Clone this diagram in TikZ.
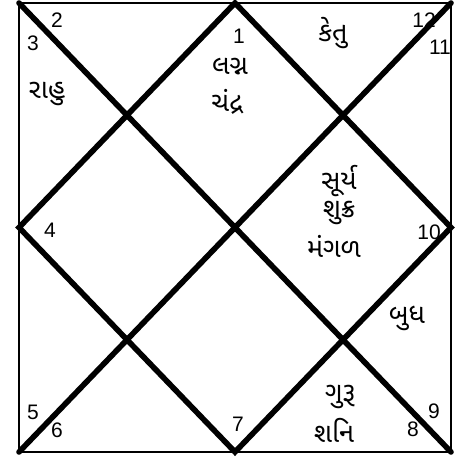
\documentclass[tikz,border=0pt]{standalone}
\usepackage{fontspec}
\setmainfont{Liberation Sans}
\newfontfamily\gujfont[Script=Gujarati]{Noto Sans Gujarati UI}

\begin{document}
\begin{tikzpicture}[x=1pt,y=-1pt,frame/.style={line width=2.8pt,line cap=round},house/.style={line width=5.6pt,line cap=round},num/.style={font=\fontsize{21}{21}\selectfont,inner sep=0pt},graha/.style={font=\gujfont\fontsize{27}{30}\selectfont,inner sep=0pt}]
 \useasboundingbox (0,0) rectangle (460,457);
 % corners and midpoints of the chart
 \coordinate (tl) at (19,3);
 \coordinate (tr) at (451,3);
 \coordinate (br) at (451,452);
 \coordinate (bl) at (19,452);
 \coordinate (tm) at (235,3);
 \coordinate (rm) at (451,227.5);
 \coordinate (bm) at (235,452);
 \coordinate (lm) at (19,227.5);
 \draw[frame] (tl)--(tr)--(br)--(bl)--cycle;
 \draw[house] (tl)--(br) (tr)--(bl);
 \draw[house] (tm)--(rm)--(bm)--(lm)--cycle;
 % house numbers
 \node[num] (n1) at (239,36) {1};
 \node[num] (n2) at (57,20) {2};
 \node[num] (n3) at (33,43) {3};
 \node[num] (n4) at (50,230) {4};
 \node[num] (n5) at (33,412) {5};
 \node[num] (n6) at (57,430) {6};
 \node[num] (n7) at (238,424) {7};
 \node[num] (n8) at (413,429) {8};
 \node[num] (n9) at (434,411) {9};
 \node[num] (n10) at (429,232) {10};
 \node[num] (n11) at (440,47) {11};
 \node[num] (n12) at (424,20) {12};
 % planets
 \node[graha] (lagna) at (230,67) {લગ્ન};
 \node[graha] (chandra) at (227,102) {ચંદ્ર};
 \node[graha] (ketu) at (333,33) {કેતુ};
 \node[graha] (rahu) at (47,94) {રાહુ};
 \node[graha] (surya) at (339,181) {સૂર્ય};
 \node[graha] (shukra) at (339,213) {શુક્ર};
 \node[graha] (mangal) at (334,246) {મંગળ};
 \node[graha] (budh) at (407,318) {બુધ};
 \node[graha] (guru) at (340,397) {ગુરૂ};
 \node[graha] (shani) at (334,430) {શનિ};
\end{tikzpicture}
\end{document}
